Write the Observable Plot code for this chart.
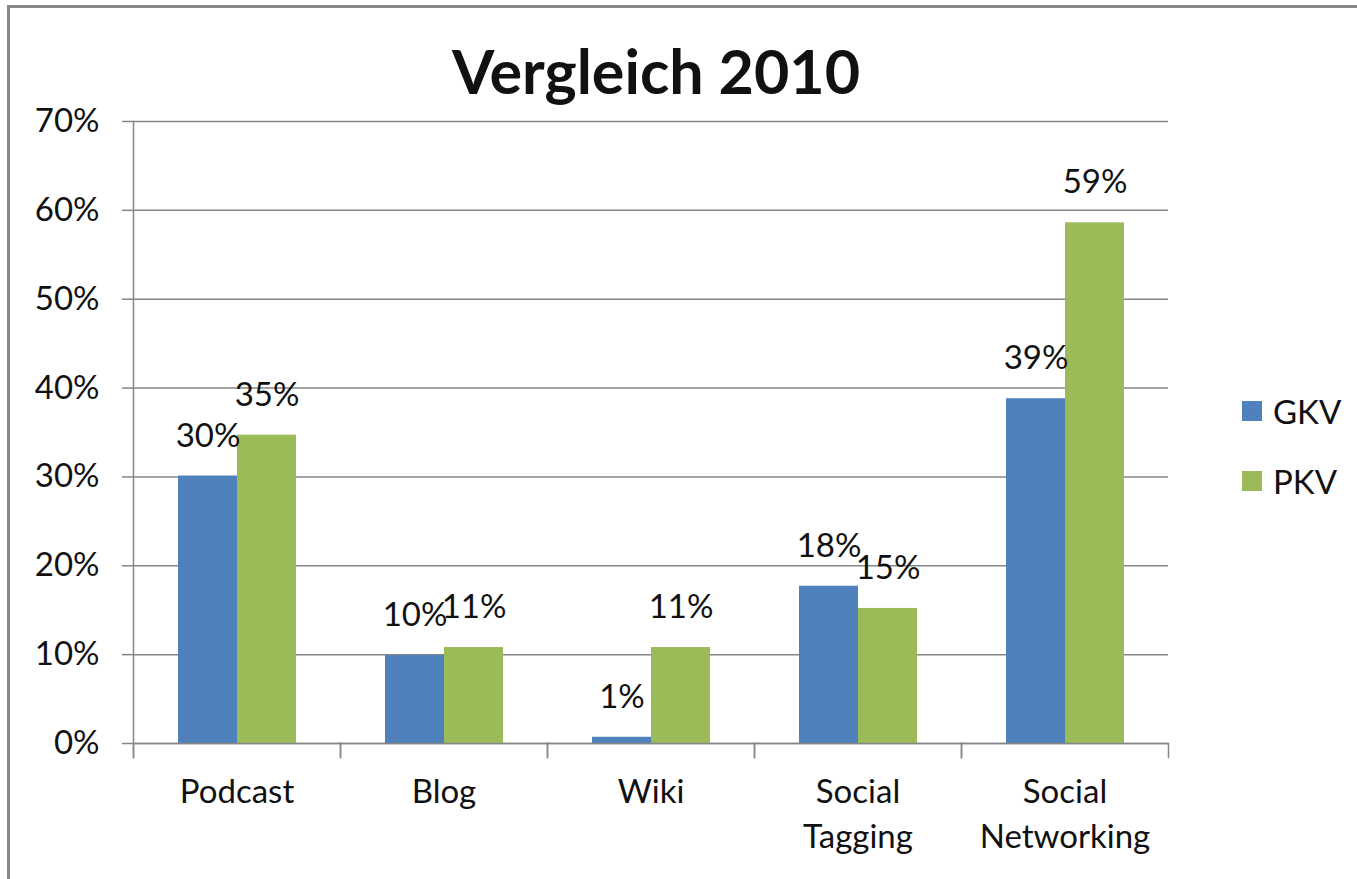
<!DOCTYPE html>
<html><head><meta charset="utf-8">
<script src="https://cdn.jsdelivr.net/npm/d3@7"></script>
<script src="https://cdn.jsdelivr.net/npm/@observablehq/plot@0.6"></script>
<style>
body{margin:0;background:#fff;}
#wrap{position:relative;width:1357px;height:879px;overflow:hidden;font-family:Lato,sans-serif;color:#111;}
#border{position:absolute;left:7px;top:5px;width:1400px;height:900px;border-left:3px solid #888;border-top:3px solid #888;}
#title{position:absolute;left:0;width:1312px;top:40px;text-align:center;font-weight:bold;font-size:61px;line-height:61px;}
#legend{position:absolute;left:1242px;top:376px;}
.row{display:flex;align-items:center;height:70px;font-size:33px;line-height:33px;}
.sw{width:20px;height:20px;margin-right:11px;}
svg{position:absolute;left:0;top:0;}
</style></head>
<body><div id="wrap"><div id="border"></div><div id="chart"></div><div id="title">Vergleich 2010</div><div id="legend"></div></div>
<script>
const title = "Vergleich 2010";
const categories = ["Podcast", "Blog", "Wiki", "Social\nTagging", "Social\nNetworking"];
const series = ["GKV", "PKV"];
const gkv = [30.1, 9.9, 0.7, 17.7, 38.8];
const pkv = [34.7, 10.8, 10.8, 15.2, 58.6];
const colors = ["#4F81BD", "#9BBB59"];
const yTicks = [0, 10, 20, 30, 40, 50, 60, 70];

const data = categories.flatMap((c, i) => [
  {cat: c, s: series[0], v: gkv[i]},
  {cat: c, s: series[1], v: pkv[i]}
]);

const W = 1357, H = 879, mL = 133, mR = 189, mT = 121, mB = 136;
const lineColor = "#868686";
const fs = 33;

const chart = Plot.plot({
  width: W, height: H,
  marginLeft: mL, marginRight: mR, marginTop: mT, marginBottom: mB,
  style: {fontFamily: "Lato, sans-serif", background: "transparent", color: "#111"},
  fx: {domain: categories, padding: 0, label: null},
  x: {domain: series, paddingInner: 0, paddingOuter: 0.754, axis: null},
  y: {domain: [0, 70], label: null},
  color: {domain: series, range: colors},
  marks: [
    Plot.gridY(yTicks, {stroke: lineColor, strokeOpacity: 1, strokeWidth: 1.5}),
    Plot.axisY(yTicks, {tickFormat: d => d + "%", tickSize: 11, tickPadding: 23, fontSize: fs, stroke: lineColor, strokeWidth: 1.5, fill: "#111", label: null}),
    Plot.axisFx({anchor: "bottom", tickSize: 0, tickPadding: 28, fontSize: fs, lineHeight: 1.36, fill: "#111", label: null}),
    Plot.barY(data, {fx: "cat", x: "s", y: "v", fill: "s"}),
    Plot.ruleY([0], {stroke: lineColor, strokeWidth: 1.5}),
    Plot.frame({anchor: "left", insetTop: H - mT - mB, insetBottom: -14, stroke: lineColor, strokeWidth: 1.5}),
    Plot.frame({anchor: "right", insetTop: H - mT - mB, insetBottom: -14, stroke: lineColor, strokeWidth: 1.5}),
    Plot.frame({anchor: "left", facet: "super", insetBottom: -14, stroke: lineColor, strokeWidth: 1.5}),
    Plot.text(data, {fx: "cat", x: "s", y: "v", text: d => Math.round(d.v) + "%", dy: -40, fontSize: fs, fill: "#111"})
  ]
});
document.getElementById("chart").appendChild(chart);

const legend = document.getElementById("legend");
series.forEach((s, i) => {
  const row = document.createElement("div");
  row.className = "row";
  const sw = document.createElement("div");
  sw.className = "sw";
  sw.style.background = colors[i];
  const t = document.createElement("span");
  t.textContent = s;
  row.appendChild(sw); row.appendChild(t);
  legend.appendChild(row);
});
</script>
</body></html>
